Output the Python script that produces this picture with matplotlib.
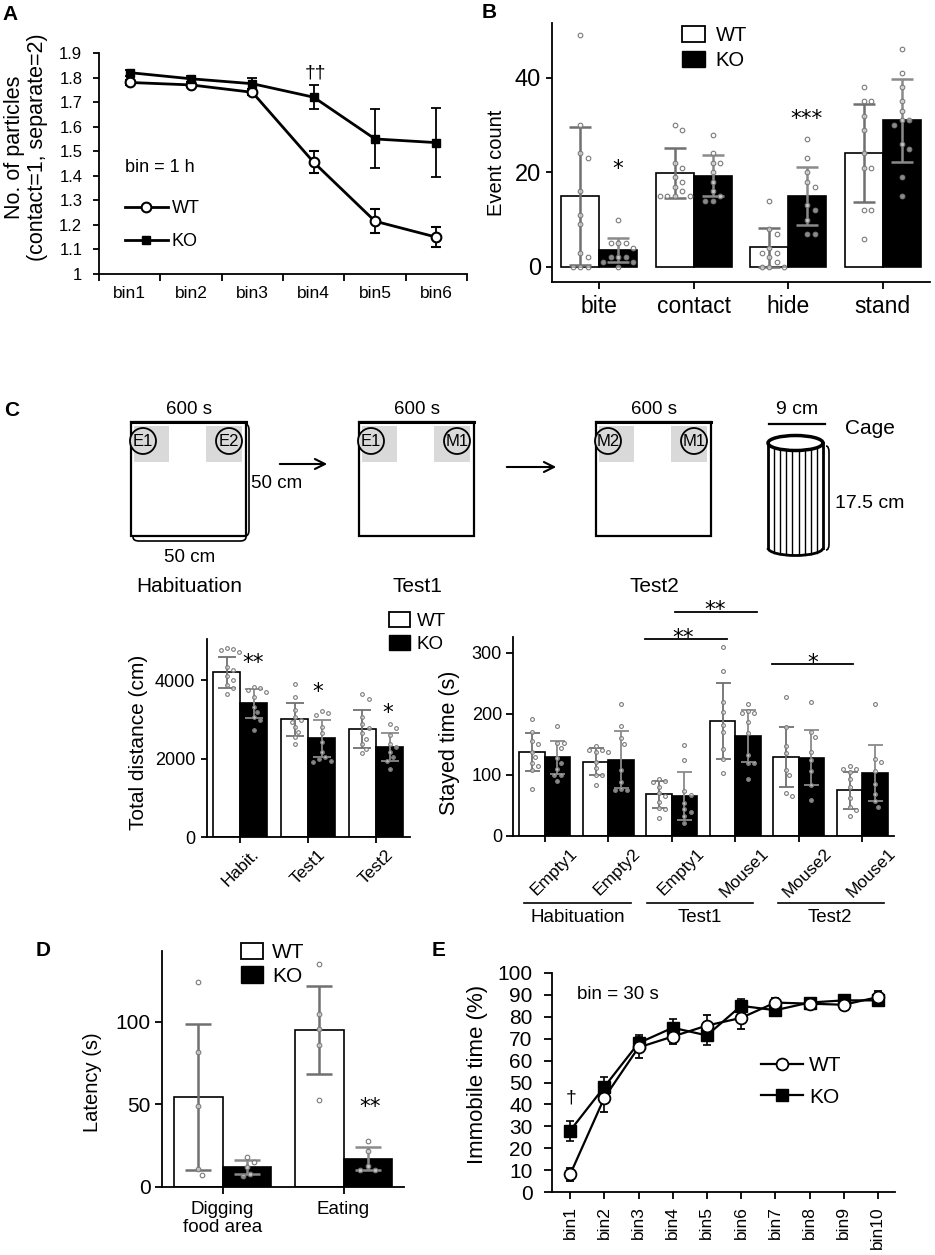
import numpy as np
import matplotlib
matplotlib.use('Agg')
import matplotlib.pyplot as plt
from matplotlib.patches import Rectangle, Circle, Ellipse, PathPatch, Patch, Arc
from matplotlib.path import Path
from matplotlib.lines import Line2D
from matplotlib import font_manager
import matplotlib.transforms as mtransforms

plt.rcParams['font.family'] = ['Liberation Sans', 'DejaVu Sans']
plt.rcParams['axes.linewidth'] = 1.3

# ---------------- data ----------------
# Panel A
a_bins = ['bin1', 'bin2', 'bin3', 'bin4', 'bin5', 'bin6']
a_wt = [1.78, 1.77, 1.74, 1.455, 1.215, 1.15]
a_wt_err = [0.012, 0.01, 0.012, 0.045, 0.05, 0.04]
a_ko = [1.82, 1.795, 1.775, 1.72, 1.55, 1.535]
a_ko_err = [0.012, 0.012, 0.025, 0.05, 0.12, 0.14]
a_yticks = [1.0, 1.1, 1.2, 1.3, 1.4, 1.5, 1.6, 1.7, 1.8, 1.9]

# Panel B
b_cats = ['bite', 'contact', 'hide', 'stand']
b_wt = [15.0, 19.9, 4.1, 24.1]
b_wt_sd = [14.7, 5.3, 4.2, 10.3]
b_ko = [3.6, 19.3, 15.0, 31.0]
b_ko_sd = [2.5, 4.4, 6.2, 8.8]
b_wt_pts = [[49, 30, 24, 23, 16, 11, 9, 3, 2, 0, 0, 0],
            [30, 29, 22, 21, 19, 18, 17, 16, 15, 15, 15, 15],
            [14, 8, 7, 4, 3, 3, 2, 1, 0, 0, 0],
            [38, 35, 35, 32, 29, 24, 21, 21, 12, 12, 6]]
b_ko_pts = [[10, 5, 5, 5, 4, 2, 2, 2, 1, 1, 0],
            [28, 24, 22, 22, 20, 18, 16, 15, 14, 14],
            [27, 23, 20, 18, 17, 13, 12, 10, 7, 7],
            [46, 41, 38, 35, 33, 31, 31, 30, 26, 25, 19, 15]]

# Panel C (total distance)
c1_cats = ['Habit.', 'Test1', 'Test2']
c1_wt = [4204, 3006, 2752]
c1_wt_sd = [395, 420, 484]
c1_ko = [3414, 2522, 2293]
c1_ko_sd = [370, 470, 357]
c1_wt_pts = [[4810, 4800, 4760, 4720, 4340, 4260, 4100, 4000, 3870, 3790, 3640],
             [3910, 3570, 3230, 3060, 2990, 2940, 2810, 2680, 2550, 2380],
             [3640, 3530, 3050, 2880, 2770, 2640, 2510, 2380, 2250, 2130]]
c1_ko_pts = [[3830, 3800, 3760, 3700, 3580, 3320, 3190, 3060, 2980, 2740],
             [3220, 3150, 3110, 2810, 2640, 2430, 2170, 2030, 2000, 1950, 1920],
             [2880, 2770, 2600, 2380, 2300, 2170, 2040, 1940, 1730]]

# Panel C (stayed time)
c2_cats = ['Empty1', 'Empty2', 'Empty1', 'Mouse1', 'Mouse2', 'Mouse1']
c2_wt = [138, 122, 68, 188, 129.5, 75]
c2_wt_sd = [31, 22.5, 22, 62, 49.5, 30]
c2_ko = [129, 125, 66, 164, 128, 103]
c2_ko_sd = [27, 47, 39, 43, 45, 46]
c2_wt_pts = [[191, 171, 155, 150, 138, 130, 119, 114, 108, 77],
             [148, 141, 141, 137, 137, 122, 111, 100, 100, 84],
             [94, 90, 89, 81, 70, 66, 56, 46, 45, 29],
             [309, 271, 220, 203, 182, 170, 142, 126, 104],
             [227, 179, 148, 136, 108, 100, 71, 66],
             [115, 110, 109, 105, 93, 80, 62, 47, 42, 32]]
c2_ko_pts = [[180, 152, 152, 144, 127, 119, 109, 100, 100, 90],
             [216, 180, 160, 151, 108, 88, 77, 76, 75],
             [149, 125, 74, 67, 54, 44, 40, 32, 21],
             [216, 205, 202, 202, 187, 168, 133, 120, 120, 94],
             [220, 170, 162, 137, 125, 107, 84, 59],
             [217, 126, 122, 107, 86, 69, 57, 48]]
c2_groups = ['Habituation', 'Test1', 'Test2']

# Panel D
d_cats = ['Digging\nfood area', 'Eating']
d_wt = [54.5, 95]
d_wt_sd = [44.5, 26.5]
d_ko = [12, 17]
d_ko_sd = [4.3, 7]
d_wt_pts = [[124.5, 82, 49, 11, 7], [135, 105, 96, 86, 53]]
d_ko_pts = [[18, 15, 12, 8, 6.5], [28, 22, 13, 10, 10]]

# Panel E
e_bins = ['bin1', 'bin2', 'bin3', 'bin4', 'bin5', 'bin6', 'bin7', 'bin8', 'bin9', 'bin10']
e_wt = [8, 43, 66, 71, 76, 79.5, 86.5, 86, 85.5, 89]
e_wt_err = [3, 6.5, 5, 3.5, 5, 5, 2, 1.5, 1.5, 3]
e_ko = [28, 48, 68, 75, 71.5, 85, 83, 86.5, 87.5, 87.5]
e_ko_err = [4.5, 4.5, 3.5, 4, 4.5, 3, 2.5, 1.5, 1.5, 2.5]

# ---------------- figure ----------------
W, H = 935, 1255
fig = plt.figure(figsize=(W / 100, H / 100), dpi=100)
ov = fig.add_axes([0, 0, 1, 1], zorder=0)
ov.set_xlim(0, W)
ov.set_ylim(H, 0)
ov.axis('off')

names = {f.name for f in font_manager.fontManager.ttflist}
if 'Liberation Sans Narrow' in names:
    NARROW, NS = 'Liberation Sans Narrow', 1.12
else:
    NARROW, NS = 'Liberation Sans', 1.0


def px_axes(x0, y0, x1, y1):
    ax = fig.add_axes([x0 / W, 1 - y1 / H, (x1 - x0) / W, (y1 - y0) / H], zorder=1)
    ax.set_facecolor('none')
    ax.spines[['top', 'right']].set_visible(False)
    return ax


def swarm(vals, ppu_y, d):
    ys = np.asarray(vals, float) * ppu_y
    xs = np.zeros(len(ys))
    placed = []
    cands = [0.0]
    for k in range(1, 25):
        cands += [k * d * 0.55, -k * d * 0.55]
    for i in np.argsort(-ys):
        for c in cands:
            if all((c - px) ** 2 + (ys[i] - py) ** 2 >= d * d for px, py in placed):
                xs[i] = c
                placed.append((c, ys[i]))
                break
    return xs


def bar_panel(ax, wt, wt_sd, ko, ko_sd, wt_pts, ko_pts, cap, elw, ppx, ppy, d, s):
    x = np.arange(len(wt))
    w = 0.4
    ax.bar(x - w / 2, wt, w, color='white', edgecolor='black', lw=1.2, zorder=2)
    ax.bar(x + w / 2, ko, w, color='black', edgecolor='black', lw=1.2, zorder=2)
    ax.errorbar(x - w / 2, wt, yerr=wt_sd, fmt='none', ecolor='#707070', elinewidth=elw,
                capsize=cap, capthick=elw, zorder=3)
    ax.errorbar(x + w / 2, ko, yerr=ko_sd, fmt='none', ecolor='#8a8a8a', elinewidth=elw,
                capsize=cap, capthick=elw, zorder=3)
    for i in range(len(wt)):
        for pts, xc in ((wt_pts[i], x[i] - w / 2), (ko_pts[i], x[i] + w / 2)):
            off = swarm(pts, ppy, d) / ppx
            ax.scatter(xc + off, pts, s=s, facecolor=(1, 1, 1, 0.55), edgecolor='#7a7a7a',
                       lw=0.8, zorder=4, clip_on=False)
    return x


def star(xp, yp, s, size=15.5):
    ov.text(xp, yp + 0.6 * size * 1.389, s, ha='center', va='baseline', fontsize=size,
            family='DejaVu Sans', zorder=5)


def letter(xp, yp, s):
    ov.text(xp, yp, s, ha='left', va='center', fontsize=15, fontweight='bold')


letter(2, 15, 'A')
letter(482, 13, 'B')
letter(4, 410, 'C')
letter(36, 951, 'D')
letter(432, 951, 'E')

# ---------------- Panel A ----------------
axA = px_axes(99, 53, 467, 274)
xa = np.arange(len(a_bins))
axA.errorbar(xa, a_wt, yerr=a_wt_err, color='black', lw=2, marker='o', ms=7, mfc='white',
             mec='black', mew=1.5, capsize=3.6, elinewidth=1.3, capthick=1.3, zorder=3)
axA.errorbar(xa, a_ko, yerr=a_ko_err, color='black', lw=2, marker='s', ms=6, mfc='black',
             mec='black', capsize=3.6, elinewidth=1.3, capthick=1.3, zorder=3)
axA.set_xlim(-0.5, len(a_bins) - 0.5)
axA.set_ylim(1.0, 1.9)
axA.set_yticks(a_yticks)
axA.set_yticklabels([f'{v:g}' for v in a_yticks])
axA.set_xticks(np.arange(-0.5, len(a_bins), 1))
axA.set_xticklabels([])
axA.set_xticks(xa, minor=True)
axA.set_xticklabels(a_bins, minor=True)
axA.tick_params(axis='x', which='minor', length=0, pad=9, labelsize=12.5)
axA.tick_params(axis='x', which='major', length=5, width=1.3, direction='out')
axA.tick_params(axis='y', length=4, width=1.3, pad=8, labelsize=12)
axA.text(-0.08, 1.432, 'bin = 1 h', fontsize=13, ha='left', va='center')
ov.text(315, 73, '\u2020\u2020', ha='center', va='center', fontsize=14)
legA = axA.legend(handles=[Line2D([], [], color='black', lw=2, marker='o', ms=7, mfc='white', mew=1.5),
                           Line2D([], [], color='black', lw=2, marker='s', ms=6, mfc='black')],
                  labels=['WT', 'KO'], loc='upper left', bbox_to_anchor=(0.07, 0.335),
                  frameon=False, fontsize=13, handlelength=2.4, handletextpad=0.2,
                  labelspacing=0.9, borderpad=0, borderaxespad=0, numpoints=1)
ov.text(26, 147, 'No. of particles\n(contact=1, separate=2)', rotation=90, ha='center',
        va='center', fontsize=15.5, multialignment='center', linespacing=1.15)

# ---------------- Panel B ----------------
axB = px_axes(552, 23, 930, 282)
xb = bar_panel(axB, b_wt, b_wt_sd, b_ko, b_ko_sd, b_wt_pts, b_ko_pts,
               cap=7.9, elw=1.8, ppx=94.0, ppy=4.725, d=6.8, s=11)
axB.set_xlim(-0.5, len(b_cats) - 0.5)
axB.set_ylim(-3.2, 51.6)
axB.set_yticks([0, 20, 40])
axB.set_xticks(xb)
axB.set_xticklabels(b_cats)
axB.tick_params(axis='y', length=4, width=1.3, pad=4, labelsize=17)
axB.tick_params(axis='x', length=5, width=1.3, pad=4, labelsize=16.5)
axB.legend(handles=[Patch(fc='white', ec='black', lw=1.3), Patch(fc='black', ec='black')],
           labels=['WT', 'KO'], loc='upper left', bbox_to_anchor=(0.345, 0.99), frameon=False,
           fontsize=14.5, handlelength=1.1, handleheight=0.85, handletextpad=0.55,
           labelspacing=0.3, borderpad=0, borderaxespad=0)
ov.text(496, 163, 'Event count', rotation=90, ha='center', va='center', fontsize=14.5)
star(618, 162, '*')
star(807, 112, '***')

# ---------------- Panel C diagram ----------------
def arena(x0, l1, l2, title):
    ov.add_patch(Rectangle((x0 + 3, 426), 35, 36, fc='#d9d9d9', ec='none', zorder=1))
    ov.add_patch(Rectangle((x0 + 75, 426), 36, 36, fc='#d9d9d9', ec='none', zorder=1))
    ov.add_patch(Rectangle((x0, 422), 115, 114, fill=False, lw=1.6, ec='black', zorder=2))
    ov.plot([x0, x0 + 115], [422, 422], color='black', lw=2.2, zorder=2)
    for cx, lab in ((x0 + 12, l1), (x0 + 98, l2)):
        ov.add_patch(Circle((cx, 441), 13, fc='#d9d9d9', ec='black', lw=1.3, zorder=3))
        ov.text(cx, 441, lab, ha='center', va='center', fontsize=12 * NS, family=NARROW, zorder=4)
    ov.text(x0 + 58, 410, '600 s', ha='center', va='center', fontsize=13.5 * NS, family=NARROW)
    ov.text(x0 + 58, 587, title, ha='center', va='center', fontsize=15)


arena(131, 'E1', 'E2', 'Habituation')
arena(359, 'E1', 'M1', 'Test1')
arena(596, 'M2', 'M1', 'Test2')

# brackets
def bracket_v(x, y0, y1, dx=4):
    verts = [(x - dx, y0), (x, y0), (x, y0 + 6), (x, y1 - 6), (x, y1), (x - dx, y1)]
    codes = [Path.MOVETO, Path.CURVE3, Path.CURVE3, Path.LINETO, Path.CURVE3, Path.CURVE3]
    ov.add_patch(PathPatch(Path(verts, codes), fill=False, lw=1.2, ec='black'))


def bracket_h(y, x0, x1, dy=4):
    verts = [(x0, y - dy), (x0, y), (x0 + 6, y), (x1 - 6, y), (x1, y), (x1, y - dy)]
    codes = [Path.MOVETO, Path.CURVE3, Path.CURVE3, Path.LINETO, Path.CURVE3, Path.CURVE3]
    ov.add_patch(PathPatch(Path(verts, codes), fill=False, lw=1.2, ec='black'))


bracket_v(249, 424, 536)
bracket_h(541, 133, 246)
ov.text(251, 484, '50 cm', ha='left', va='center', fontsize=13.5 * NS, family=NARROW)
ov.text(190, 558, '50 cm', ha='center', va='center', fontsize=13.5 * NS, family=NARROW)

for xs_, xe_, yy in ((277, 330, 464), (504, 559, 467)):
    ov.annotate('', xy=(xe_, yy), xytext=(xs_, yy),
                arrowprops=dict(arrowstyle='->', lw=1.5, color='black', mutation_scale=18))

# cage
cx, cw = 795.5, 55
ytop, ybot, eh = 443, 548, 15
ov.add_patch(Rectangle((cx - cw / 2, ytop), cw, ybot - ytop, fc='white', ec='none', zorder=1))
ov.plot([cx - cw / 2, cx - cw / 2], [ytop, ybot], color='black', lw=2, zorder=3)
ov.plot([cx + cw / 2, cx + cw / 2], [ytop, ybot], color='black', lw=2, zorder=3)
ov.add_patch(Arc((cx, ybot), cw, eh, theta1=0, theta2=180, lw=2, ec='black', zorder=3))
ov.add_patch(Ellipse((cx, ytop), cw, eh, fc='white', ec='black', lw=2.5, zorder=4))
for k in range(1, 9):
    xx = cx - cw / 2 + k * cw / 9
    yb = ybot + (eh / 2) * np.sqrt(max(0.0, 1 - ((xx - cx) / (cw / 2)) ** 2))
    yt = ytop + (eh / 2) * np.sqrt(max(0.0, 1 - ((xx - cx) / (cw / 2)) ** 2))
    ov.plot([xx, xx], [yt, yb], color='black', lw=1.0, zorder=2)
bracket_v(829, 446, 550, dx=3)
ov.plot([769, 825], [424, 424], color='black', lw=1.6)
ov.text(797, 409, '9 cm', ha='center', va='center', fontsize=14 * NS, family=NARROW)
ov.text(845, 428, 'Cage', ha='left', va='center', fontsize=15 * NS, family=NARROW)
ov.text(835, 504, '17.5 cm', ha='left', va='center', fontsize=14 * NS, family=NARROW)

# ---------------- Panel C total distance ----------------
axC1 = px_axes(207, 639, 410, 837)
xc1 = bar_panel(axC1, c1_wt, c1_wt_sd, c1_ko, c1_ko_sd, c1_wt_pts, c1_ko_pts,
                cap=6.5, elw=1.3, ppx=68.0, ppy=0.03925, d=5.6, s=7)
axC1.set_xlim(-0.49, len(c1_cats) - 0.5)
axC1.set_ylim(0, 5050)
axC1.set_yticks([0, 2000, 4000])
axC1.set_xticks(xc1)
axC1.set_xticklabels(c1_cats, rotation=45, ha='center')
axC1.tick_params(axis='y', length=4, width=1.3, pad=4.5, labelsize=13)
axC1.tick_params(axis='x', length=4, width=1.3, pad=3, labelsize=12.5)
axC1.legend(handles=[Patch(fc='white', ec='black', lw=1.3), Patch(fc='black', ec='black')],
            labels=['WT', 'KO'], loc='upper left', bbox_to_anchor=(0.895, 1.135), frameon=False,
            fontsize=13.5, handlelength=1.15, handleheight=0.85, handletextpad=0.35,
            labelspacing=0.25, borderpad=0, borderaxespad=0)
ov.text(139, 742, 'Total distance (cm)', rotation=90, ha='center', va='center', fontsize=15)
star(253, 656, '**')
star(318, 685, '*')
star(388, 706, '*')

# ---------------- Panel C stayed time ----------------
axC2 = px_axes(513, 637, 894, 836)
xc2 = bar_panel(axC2, c2_wt, c2_wt_sd, c2_ko, c2_ko_sd, c2_wt_pts, c2_ko_pts,
                cap=5.4, elw=1.3, ppx=63.5, ppy=0.61, d=5.8, s=7.5)
axC2.set_xlim(-0.5, len(c2_cats) - 0.5)
axC2.set_ylim(0, 326)
axC2.set_yticks([0, 100, 200, 300])
axC2.set_xticks(xc2)
axC2.set_xticklabels(c2_cats, rotation=45, ha='center')
axC2.tick_params(axis='y', length=5, width=1.3, pad=3, labelsize=13)
axC2.tick_params(axis='x', length=4, width=1.3, pad=3, labelsize=12.5)
shift = mtransforms.ScaledTranslation(0.09, 0, fig.dpi_scale_trans)
for lab in axC2.get_xticklabels():
    lab.set_transform(lab.get_transform() + shift)
ov.text(450, 743, 'Stayed time (s)', rotation=90, ha='center', va='center', fontsize=15.5)
for (x0, x1, yy) in ((645, 727, 639), (675, 757, 612), (772, 853, 664)):
    ov.plot([x0, x1], [yy, yy], color='black', lw=1.3, zorder=5)
star(683, 631, '**')
star(715, 603, '**')
star(813, 656, '*')
for (x0, x1, xm, lab) in ((524, 631, 578, c2_groups[0]), (647, 753, 700, c2_groups[1]),
                          (778, 884, 830, c2_groups[2])):
    ov.plot([x0, x1], [903, 903], color='black', lw=1.2)
    ov.text(xm, 918, lab, ha='center', va='center', fontsize=13.5)

# ---------------- Panel D ----------------
axD = px_axes(162, 951, 404, 1187)
xd = bar_panel(axD, d_wt, d_wt_sd, d_ko, d_ko_sd, d_wt_pts, d_ko_pts,
               cap=9.4, elw=1.8, ppx=121.0, ppy=1.65, d=6.8, s=11)
axD.set_xlim(-0.5, len(d_cats) - 0.5)
axD.set_ylim(0, 143)
axD.set_yticks([0, 50, 100])
axD.set_xticks(xd)
axD.set_xticklabels(d_cats, linespacing=1.05)
axD.tick_params(axis='y', length=5, width=1.3, pad=3, labelsize=15)
axD.tick_params(axis='x', length=5, width=1.3, pad=5, labelsize=13.5)
axD.legend(handles=[Patch(fc='white', ec='black', lw=1.3), Patch(fc='black', ec='black')],
           labels=['WT', 'KO'], loc='upper left', bbox_to_anchor=(0.326, 1.035), frameon=False,
           fontsize=15, handlelength=1.05, handleheight=0.85, handletextpad=0.45,
           labelspacing=0.2, borderpad=0, borderaxespad=0)
ov.text(92, 1082, 'Latency (s)', rotation=90, ha='center', va='center', fontsize=14.5)
star(370, 1100, '**')

# ---------------- Panel E ----------------
axE = px_axes(552, 973, 895, 1192)
xe = np.arange(1, len(e_bins) + 1)
axE.errorbar(xe, e_ko, yerr=e_ko_err, color='black', lw=1.6, marker='s', ms=8, mfc='black',
             mec='black', capsize=2.6, elinewidth=1.2, capthick=1.2, zorder=3)
axE.errorbar(xe, e_wt, yerr=e_wt_err, color='black', lw=1.6, marker='o', ms=8.5, mfc='white',
             mec='black', mew=1.3, capsize=2.6, elinewidth=1.2, capthick=1.2, zorder=4)
axE.set_xlim(0.47, len(e_bins) + 0.5)
axE.set_ylim(0, 100)
axE.set_yticks(np.arange(0, 101, 10))
axE.set_xticks(xe)
axE.set_xticklabels(e_bins, rotation=90, ha='center', va='top')
axE.tick_params(axis='y', length=6, width=1.3, pad=8, labelsize=15)
axE.tick_params(axis='x', length=5, width=1.3, pad=5, labelsize=12.5)
axE.text(0.073, 0.9, 'bin = 30 s', transform=axE.transAxes, fontsize=13.5, ha='left', va='center')
ov.text(571, 1098, '\u2020', ha='center', va='center', fontsize=14)
axE.legend(handles=[Line2D([], [], color='black', lw=1.6, marker='o', ms=8.5, mfc='white', mew=1.3),
                    Line2D([], [], color='black', lw=1.6, marker='s', ms=8, mfc='black')],
           labels=['WT', 'KO'], loc='upper left', bbox_to_anchor=(0.61, 0.62),
           frameon=False, fontsize=15, handlelength=2.0, handletextpad=0.3,
           labelspacing=0.6, borderpad=0, borderaxespad=0, numpoints=1)
ov.text(477, 1074, 'Immobile time (%)', rotation=90, ha='center', va='center', fontsize=16)

fig.savefig('out.png', dpi=100)
